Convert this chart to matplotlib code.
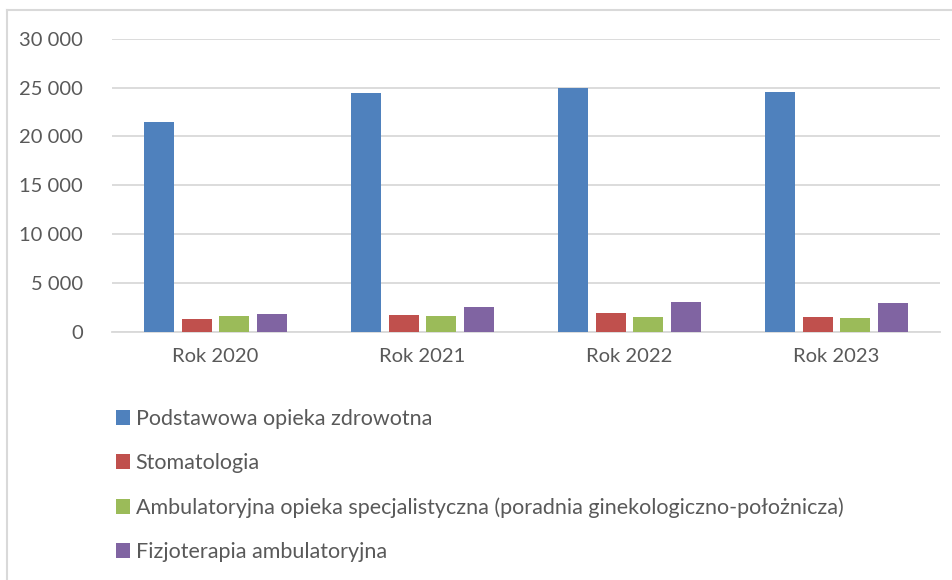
import numpy as np
import matplotlib.pyplot as plt
from matplotlib.patches import Patch
from matplotlib.lines import Line2D

# data
years = ['Rok 2020', 'Rok 2021', 'Rok 2022', 'Rok 2023']
series = ['Podstawowa opieka zdrowotna',
          'Stomatologia',
          'Ambulatoryjna opieka specjalistyczna (poradnia ginekologiczno-położnicza)',
          'Fizjoterapia ambulatoryjna']
poz = [21430, 24400, 25000, 24500]
stoma = [1260, 1740, 1910, 1540]
ambul = [1600, 1570, 1500, 1370]
fizjo = [1810, 2530, 3000, 2940]
colors = ['#4f81bd', '#c0504d', '#9bbb59', '#8064a2']

plt.rcParams['font.family'] = ['Lato', 'DejaVu Sans']
txt = '#595959'
grid = '#d9d9d9'

fig = plt.figure(figsize=(9.53, 5.8), dpi=100)
ax = fig.add_axes([112/953, (580-331.7)/580, (940-112)/953, 293/580])

x = np.arange(len(years))
w = 0.143
pitch = 0.181
for i, (vals, c) in enumerate(zip([poz, stoma, ambul, fizjo], colors)):
    ax.bar(x + (i - 1.5)*pitch, vals, w, color=c, label=series[i], zorder=3)

ax.set_xlim(-0.5, 3.5)
ax.set_ylim(0, 30000)
ax.set_yticks(np.arange(0, 30001, 5000))
ax.set_yticklabels([f'{v:,}'.replace(',', ' ') for v in range(0, 30001, 5000)])
ax.set_xticks(x)
ax.set_xticklabels(years)
ax.yaxis.grid(True, color=grid, linewidth=1.3, zorder=0)
for s in ['top', 'right', 'left']:
    ax.spines[s].set_visible(False)
ax.spines['bottom'].set_color(grid)
ax.spines['bottom'].set_linewidth(1.3)
ax.tick_params(axis='both', length=0, labelsize=14.5, colors=txt)
ax.tick_params(axis='y', pad=21)
ax.tick_params(axis='x', pad=12)

# chart border (top and left)
fig.add_artist(Line2D([7.5/953, 7.5/953], [0, 1 - 10/580], color=grid, linewidth=1.5))
fig.add_artist(Line2D([7.5/953, 1], [1 - 10/580, 1 - 10/580], color=grid, linewidth=1.5))

handles = [Patch(facecolor=c) for c in colors]
fig.legend(handles, series, loc='upper left', bbox_to_anchor=(97/953, 1 - 390/580),
           frameon=False, fontsize=15.5, labelcolor=txt, handlelength=0.65, handleheight=0.7,
           handletextpad=0.25, labelspacing=1.12)

fig.savefig('out.png', dpi=100)
